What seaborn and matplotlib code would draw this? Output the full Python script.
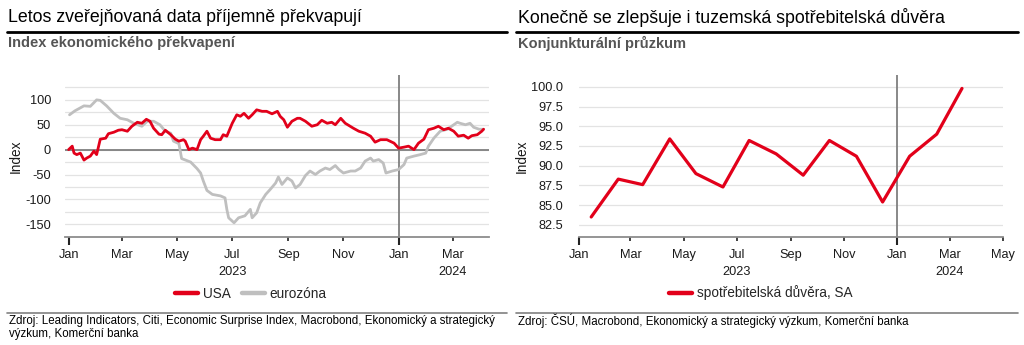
import numpy as np
import pandas as pd
import matplotlib
matplotlib.use("Agg")
import matplotlib.pyplot as plt
from matplotlib.lines import Line2D
import seaborn as sns

# ---------------- data ----------------
# Left chart: Economic surprise index, day offsets from 2023-01-01
usa_day = [0, 4, 6, 9, 13, 17, 20, 24, 28, 31, 35, 41, 44, 50, 55, 59, 65, 70, 76, 81,
           86, 90, 94, 100, 103, 107, 113, 118, 122, 127, 129, 133, 137, 142, 146, 149,
           153, 157, 162, 168, 171, 175, 181, 186, 190, 194, 199, 203, 208, 214, 219,
           225, 231, 234, 238, 242, 247, 253, 256, 262, 269, 275, 280, 286, 291, 295,
           301, 306, 315, 321, 328, 334, 339, 345, 352, 360, 365, 371, 376, 382, 387,
           393, 398, 404, 409, 415, 420, 426, 431, 437, 442, 446, 452, 457, 459]
usa_val = [0, 7, -7, -10, -7, -21, -17, -13, -3, -10, 21, 23, 32, 35, 39, 40, 37, 47, 55, 53,
           61, 57, 43, 31, 30, 39, 30, 21, 17, 20, 17, 0, 3, 0, 20, 27,
           37, 23, 20, 20, 30, 27, 53, 70, 67, 73, 63, 70, 80, 77, 77,
           72, 77, 67, 60, 45, 57, 63, 63, 57, 47, 50, 59, 53, 55, 50,
           63, 53, 43, 37, 33, 27, 15, 20, 20, 13, 3, 5, 7, 0, 13,
           21, 40, 43, 47, 40, 43, 37, 27, 29, 23, 28, 30, 37, 41]

ez_day = [1, 7, 17, 24, 31, 35, 42, 50, 57, 65, 72, 81, 87, 94, 101, 107, 113, 116, 122,
          125, 135, 142, 146, 149, 153, 159, 168, 173, 175, 177, 183, 188, 195, 201, 203,
          208, 212, 218, 223, 229, 232, 236, 242, 247, 251, 256, 262, 267, 273, 278, 284,
          289, 295, 299, 304, 312, 317, 323, 328, 334, 337, 343, 348, 351, 358, 365, 371,
          374, 382, 389, 395, 398, 404, 411, 419, 426, 430, 433, 439, 444, 448, 454, 459]
ez_val = [70, 78, 88, 87, 100, 99, 88, 73, 63, 60, 53, 47, 57, 57, 50, 37, 33, 17, 12,
          -18, -25, -38, -47, -63, -82, -90, -93, -97, -120, -137, -147, -137, -133, -120, -137,
          -127, -107, -90, -80, -67, -55, -70, -57, -63, -77, -70, -52, -43, -50, -43, -37,
          -40, -32, -40, -47, -43, -43, -37, -23, -17, -23, -20, -27, -47, -43, -40, -30,
          -17, -13, -10, -7, 7, 23, 37, 41, 50, 55, 53, 50, 53, 45, 41, 41]

# Right chart: consumer confidence (monthly, SA)
conf_month = ["2023-01-15", "2023-02-15", "2023-03-15", "2023-04-15", "2023-05-15",
              "2023-06-15", "2023-07-15", "2023-08-15", "2023-09-15", "2023-10-15",
              "2023-11-15", "2023-12-15", "2024-01-15", "2024-02-15", "2024-03-15"]
conf_val = [83.5, 88.3, 87.6, 93.4, 89.0, 87.3, 93.2, 91.5, 88.8, 93.2,
            91.2, 85.4, 91.2, 94.0, 99.8]

# Tick labels
left_major_ticks = ["2023-01-01", "2024-01-01"]
left_minor_ticks = ["2023-03-01", "2023-05-01", "2023-07-01", "2023-09-01", "2023-11-01", "2024-03-01"]
left_minor_labels = ["Mar", "May", "Jul", "Sep", "Nov", "Mar"]
right_minor_ticks = left_minor_ticks + ["2024-05-01"]
right_minor_labels = left_minor_labels + ["May"]
major_labels = ["Jan", "Jan"]
year_labels = [("2023-07-01", "2023"), ("2024-03-01", "2024")]

# ---------------- style ----------------
RED = "#E2001A"
GRAY = "#BFBFBF"
REF = "#7F7F7F"
GRID = "#E3E3E3"
TICK_FS = 9.2

sns.set_theme(style="white")
plt.rcParams["font.family"] = ["Liberation Sans", "DejaVu Sans"]
plt.rcParams["axes.unicode_minus"] = False

W, H = 1024, 345
fig = plt.figure(figsize=(W / 100, H / 100), dpi=100)

def fx(px):
    return px / W

def fy(py):
    return 1 - py / H

ax_top, ax_bot = 75, 236.7
ax1 = fig.add_axes([fx(65), fy(ax_bot), fx(489 - 65), (ax_bot - ax_top) / H])
ax2 = fig.add_axes([fx(579), fy(ax_bot), fx(1003 - 579), (ax_bot - ax_top) / H])

base = pd.Timestamp("2023-01-01")
df_left = pd.concat([
    pd.DataFrame({"date": base + pd.to_timedelta(ez_day, unit="D"), "value": ez_val, "series": "eurozóna"}),
    pd.DataFrame({"date": base + pd.to_timedelta(usa_day, unit="D"), "value": usa_val, "series": "USA"}),
])
df_right = pd.DataFrame({"date": pd.to_datetime(conf_month), "value": conf_val})

sns.lineplot(data=df_left, x="date", y="value", hue="series", hue_order=["eurozóna", "USA"],
             palette={"USA": RED, "eurozóna": GRAY}, linewidth=2.0, legend=False, ax=ax1,
             estimator=None, sort=True)
sns.lineplot(data=df_right, x="date", y="value", color=RED, linewidth=2.3, legend=False, ax=ax2)

def style_axis(ax, minor_ticks, minor_labels, xlim):
    for s in ["top", "right", "left"]:
        ax.spines[s].set_visible(False)
    ax.spines["bottom"].set_color("#8C8C8C")
    ax.spines["bottom"].set_linewidth(1.3)
    ax.set_xlim(pd.Timestamp(xlim[0]), pd.Timestamp(xlim[1]))
    ax.set_xticks(pd.to_datetime(left_major_ticks), labels=major_labels)
    ax.set_xticks(pd.to_datetime(minor_ticks), labels=minor_labels, minor=True)
    ax.tick_params(axis="x", which="major", bottom=True, length=6, width=1.5, color="#222222",
                   pad=2.5, labelsize=TICK_FS, labelcolor="#1A1A1A")
    ax.tick_params(axis="x", which="minor", bottom=True, length=3, width=1.3, color="#333333",
                   pad=5.5, labelsize=TICK_FS, labelcolor="#1A1A1A")
    ax.tick_params(axis="y", which="both", length=0, labelsize=TICK_FS, labelcolor="#1A1A1A")
    ax.set_xlabel("")
    ax.axvline(pd.Timestamp("2024-01-01"), color=REF, lw=1.3, zorder=1)
    for d, t in year_labels:
        ax.annotate(t, xy=(pd.Timestamp(d), 0), xycoords=("data", "axes fraction"),
                    xytext=(0, -25.5), textcoords="offset points", ha="center", va="center",
                    fontsize=TICK_FS, color="#1A1A1A")

# Left axis
style_axis(ax1, left_minor_ticks, left_minor_labels, ("2022-12-28", "2024-04-10"))
ax1.set_ylim(-175, 150)
ax1.set_yticks([-150, -100, -50, 0, 50, 100])
ax1.set_yticks([-125, -75, -25, 25, 75, 125], minor=True)
ax1.grid(axis="y", which="both", color=GRID, lw=0.9, zorder=0)
ax1.set_axisbelow(True)
ax1.axhline(0, color=REF, lw=1.3, zorder=1)
ax1.tick_params(axis="y", pad=10)
ax1.set_ylabel("Index", fontsize=9.8, color="#1A1A1A")
ax1.yaxis.set_label_coords(-0.099, 0.5)

# Right axis
style_axis(ax2, right_minor_ticks, right_minor_labels, ("2023-01-01", "2024-05-01"))
ax2.set_ylim(81.0, 101.5)
ax2.set_yticks(np.arange(82.5, 100.01, 2.5))
ax2.set_yticklabels([f"{v:.1f}" for v in np.arange(82.5, 100.01, 2.5)])
ax2.grid(axis="y", which="major", color=GRID, lw=0.9, zorder=0)
ax2.set_axisbelow(True)
ax2.tick_params(axis="y", pad=11.5)
ax2.set_ylabel("Index", fontsize=9.8, color="#1A1A1A")
ax2.yaxis.set_label_coords(-0.118, 0.5)

# Legends
h_usa = Line2D([], [], color=RED, lw=3.2)
h_ez = Line2D([], [], color=GRAY, lw=3.2)
fig.legend([h_usa, h_ez], ["USA", "eurozóna"], loc="center", bbox_to_anchor=(fx(251), fy(294)),
           ncol=2, frameon=False, fontsize=9.8, handlelength=1.65, handletextpad=0.38,
           columnspacing=0.85)
h_conf = Line2D([], [], color=RED, lw=3.2)
fig.legend([h_conf], ["spotřebitelská důvěra, SA"], loc="center", bbox_to_anchor=(fx(761), fy(293)),
           frameon=False, fontsize=9.8, handlelength=1.65, handletextpad=0.38)

# Titles, rules, footers
for x0, x1, tx, title, sub in [
    (7, 507, 8, "Letos zveřejňovaná data příjemně překvapují", "Index ekonomického překvapení"),
    (516, 1018, 518, "Konečně se zlepšuje i tuzemská spotřebitelská důvěra", "Konjunkturální průzkum"),
]:
    fig.text(fx(tx), fy(17.5), title, fontsize=12.8, va="center", ha="left", color="#000000")
    fig.add_artist(Line2D([fx(x0), fx(x1)], [fy(31.5), fy(31.5)], color="#000000", lw=2.0))
    fig.text(fx(tx), fy(43.5), sub, fontsize=10.5, fontweight="bold", va="center", ha="left",
             color="#555555")
    fig.add_artist(Line2D([fx(x0), fx(x1)], [fy(312.7), fy(312.7)], color="#808080", lw=1.2))

FOOT_FS = 8.3
fig.text(fx(9), fy(321), "Zdroj: Leading Indicators, Citi, Economic Surprise Index, Macrobond, Ekonomický a strategický",
         fontsize=FOOT_FS, va="center", ha="left", color="#000000")
fig.text(fx(9), fy(334), "výzkum, Komerční banka", fontsize=FOOT_FS, va="center", ha="left", color="#000000")
fig.text(fx(518), fy(321), "Zdroj: ČSÚ, Macrobond, Ekonomický a strategický výzkum, Komerční banka",
         fontsize=FOOT_FS, va="center", ha="left", color="#000000")

fig.savefig("out.png", dpi=100)
